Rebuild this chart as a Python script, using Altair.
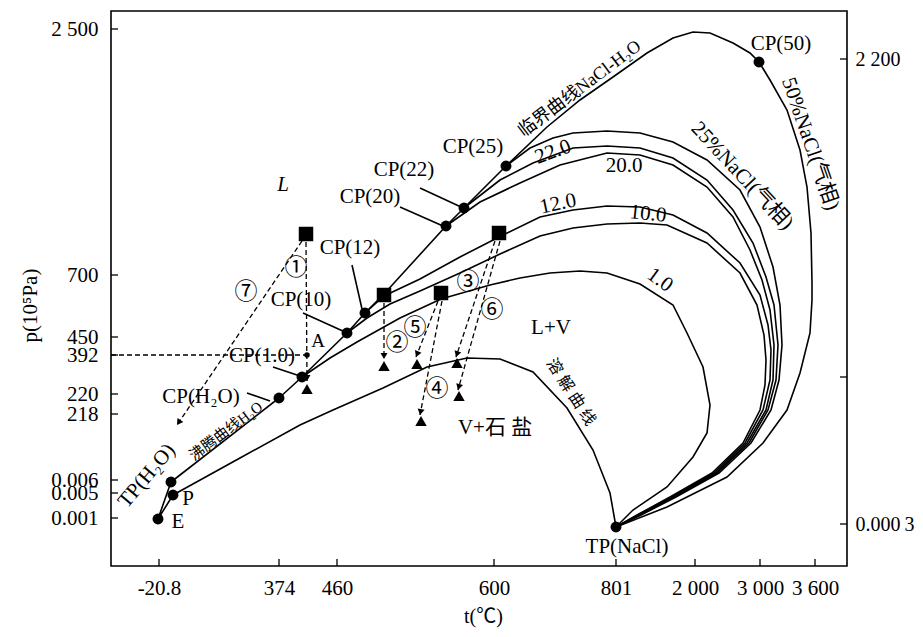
import math
import json
import altair as alt
import pandas as pd

# ---------------- axis ticks of the schematic (non-linear) axes ----------------
x_tick_pos = [159, 279, 337, 494, 616, 695, 760, 815]
x_tick_lab = ["-20.8", "374", "460", "600", "801", "2 000", "3 000", "3 600"]
yl_tick_pos = [29, 275, 337, 355, 394, 414, 480, 493, 518]
yl_tick_lab = ["2 500", "700", "450", "392", "220", "218", "0.006", "0.005", "0.001"]
yr_tick_pos = [59, 377, 524]
yr_tick_lab = ["2 200", "", "0.000\u20093"]

X_DOM = [111, 847]
Y_DOM = [11, 566]

# ---------------- curves (diagram units) ----------------
critical = [(279, 398), (302, 377), (347, 333), (365, 313), (384, 294), (446, 226), (464, 208),
            (506, 166), (547, 127), (580, 100), (613, 77), (647, 53), (673, 38), (693, 32),
            (710, 33), (733, 43), (750, 53), (759, 62), (770, 80), (787, 110), (800, 150),
            (807, 187), (811, 233), (812, 283), (812, 300), (810, 333), (800, 373), (787, 410),
            (763, 443), (727, 477), (667, 507), (616, 527)]
boiling = [(171, 482), (279, 398)]
e_tp = [(171, 482), (158, 519), (173, 495)]
dissolution = [(173, 495), (240, 458), (300, 425), (333, 410), (383, 388), (427, 367), (467, 358),
               (500, 359), (533, 372), (567, 408), (593, 450), (610, 493), (616, 527)]
iso_25 = [(506, 166), (530, 148), (553, 138), (573, 133), (607, 131), (640, 133), (673, 142),
          (707, 160), (740, 190), (760, 227), (773, 267), (780, 305), (782, 345), (779, 380),
          (771, 410), (751, 443), (719, 473), (676, 497), (641, 515), (616, 527)]
iso_22 = [(464, 208), (500, 180), (533, 163), (573, 148), (607, 146), (640, 148), (673, 158),
          (707, 180), (733, 210), (753, 243), (766, 277), (774, 305), (778, 345), (776, 380),
          (768, 410), (749, 443), (717, 473), (674, 497), (640, 515), (616, 527)]
iso_20 = [(446, 226), (480, 202), (520, 183), (560, 165), (607, 153), (640, 155), (673, 165),
          (707, 187), (733, 217), (750, 250), (762, 280), (770, 310), (774, 345), (773, 380),
          (766, 410), (747, 443), (716, 473), (673, 497), (639, 515), (616, 527)]
iso_12 = [(365, 313), (384, 296), (420, 279), (460, 257), (499, 237), (540, 217), (573, 210),
          (607, 206), (640, 207), (673, 215), (707, 233), (740, 263), (760, 295), (768, 325),
          (771, 350), (770, 380), (763, 410), (745, 443), (714, 473), (672, 497), (638, 515),
          (616, 527)]
iso_10 = [(347, 333), (367, 318), (390, 304), (420, 291), (460, 273), (500, 254), (540, 236),
          (573, 228), (607, 224), (640, 223), (667, 225), (707, 243), (740, 273), (757, 305),
          (764, 335), (766, 360), (765, 385), (760, 410), (743, 443), (712, 473), (670, 497),
          (637, 515), (616, 527)]
iso_1 = [(302, 377), (330, 358), (357, 342), (400, 318), (441, 299), (490, 285), (520, 278),
         (550, 273), (580, 271), (607, 273), (640, 284), (673, 305), (687, 333), (703, 367),
         (710, 405), (707, 433), (693, 457), (667, 487), (633, 510), (616, 527)]
leaders = {
    "lCPH2O": [(247, 393), (270, 401)],
    "lCP1": [(273, 367), (300, 376)],
    "lCP10": [(303, 313), (345, 332)],
    "lCP12": [(352, 265), (362, 309)],
    "lCP20": [(400, 207), (443, 226)],
    "lCP22": [(420, 188), (461, 207)],
}

# dashed paths: (start, end, has_arrow)
dashed = {
    "d1": ((306, 242), (307, 381), True),
    "dh": ((111, 355), (305, 355), False),
    "d7": ((302, 241), (177, 425), True),
    "d2": ((384, 303), (384, 359), True),
    "d5": ((438, 301), (416, 357), True),
    "d4": ((442, 301), (420, 415), True),
    "d3": ((495, 241), (456, 357), True),
    "d6": ((500, 241), (458, 390), True),
}

# markers
circle_pts = [(158, 519), (173, 495), (171, 482), (279, 398), (302, 377), (347, 333), (365, 313),
              (446, 226), (464, 208), (506, 166), (759, 62), (616, 527)]
square_pts = [(306, 234), (384, 295), (441, 293), (499, 233)]
triangle_pts = [(307, 389), (384, 366), (417, 364), (421, 421), (457, 363), (459, 396)]
dot_a = [(307, 355)]

# labels: text, x, y, angle, size
labels = [
    ("CP(H₂O)", 201, 397, 0, 21), ("CP(1.0)", 262, 356, 0, 21), ("CP(10)", 301, 300, 0, 21),
    ("CP(12)", 350, 248, 0, 21), ("CP(20)", 370, 197, 0, 21), ("CP(22)", 404, 170, 0, 21),
    ("CP(25)", 473, 147, 0, 21), ("CP(50)", 781, 44, 0, 21), ("TP(NaCl)", 627, 547, 0, 21),
    ("TP(H₂O)", 147, 476, -50, 21), ("P", 188, 499, 0, 21), ("E", 178, 522, 0, 21),
    ("A", 318, 341, 0, 19), ("L+V", 551, 328, 0, 21), ("V+石 盐", 495, 428, 0, 21),
    ("临界曲线NaCl-H₂O", 580, 89, -37, 18), ("沸腾曲线H₂O", 226, 431, -37, 15),
    ("溶 解 曲 线", 571, 392, 57, 16), ("50%NaCl(气相)", 810, 144, 71, 21),
    ("25%NaCl(气相)", 742, 176, 47, 21), ("22.0", 553, 152, -20, 21), ("20.0", 624, 166, 0, 21),
    ("12.0", 558, 204, -12, 21), ("10.0", 648, 214, 6, 21), ("1.0", 660, 280, 36, 21),
    ("①", 296, 268, 0, 23), ("⑦", 246, 292, 0, 23), ("②", 397, 343, 0, 23),
    ("⑤", 415, 328, 0, 23), ("③", 468, 282, 0, 23), ("⑥", 492, 310, 0, 23),
    ("④", 437, 389, 0, 23),
]
italic_labels = [("L", 283, 185, 0, 21)]

FONT = "Liberation Serif, 'Noto Sans CJK SC', serif"

# ---------------- build tables ----------------
curves = {"critical": critical, "boiling": boiling, "e_tp": e_tp, "dissolution": dissolution,
          "iso25": iso_25, "iso22": iso_22, "iso20": iso_20, "iso12": iso_12, "iso10": iso_10,
          "iso1": iso_1}
curves.update(leaders)
line_rows = [{"c": k, "i": i, "x": p[0], "y": p[1]} for k, pts in curves.items()
             for i, p in enumerate(pts)]
line_df = pd.DataFrame(line_rows)

dash_rows = []
arrow_rows = []
for k, (a, b, arr) in dashed.items():
    dash_rows.append({"c": k, "i": 0, "x": a[0], "y": a[1]})
    dash_rows.append({"c": k, "i": 1, "x": b[0], "y": b[1]})
    if arr:
        dx, dy = b[0] - a[0], b[1] - a[1]
        L = math.hypot(dx, dy)
        ang = math.degrees(math.atan2(-dx, dy)) % 360
        arrow_rows.append({"x": b[0] - 3 * dx / L, "y": b[1] - 3 * dy / L, "a": ang})
dash_df = pd.DataFrame(dash_rows)
arrow_df = pd.DataFrame(arrow_rows)


def pts_df(pts):
    return pd.DataFrame([{"x": p[0], "y": p[1]} for p in pts])


def lab_df(lst):
    return pd.DataFrame([{"t": t, "x": x, "y": y, "a": a % 360, "s": s} for t, x, y, a, s in lst])


xs = alt.Scale(domain=X_DOM, nice=False, zero=False)
ys = alt.Scale(domain=Y_DOM, nice=False, zero=False, reverse=True)


def lab_expr(pos, lab):
    return f"{json.dumps(lab)}[indexof({json.dumps(pos)}, datum.value)]"


x_axis = alt.Axis(values=x_tick_pos, labelExpr=lab_expr(x_tick_pos, x_tick_lab), ticks=False,
                  tickSize=0, domain=False, grid=False, labelFont=FONT, labelFontSize=21,
                  labelColor="black", labelPadding=11, labelOverlap=False, labelFlush=False,
                  title="t(℃)", titleFont=FONT, titleFontSize=20, titleFontWeight="normal",
                  titleColor="black", titleX=372, titleY=50, titleBaseline="middle",
                  orient="bottom")
yl_axis = alt.Axis(values=yl_tick_pos, labelExpr=lab_expr(yl_tick_pos, yl_tick_lab), ticks=False,
                   tickSize=0, domain=False, grid=False, labelFont=FONT, labelFontSize=21,
                   labelColor="black", labelPadding=13, labelOverlap=False, labelFlush=False,
                   title="p(10⁵Pa)", titleFont=FONT, titleFontSize=21, titleFontWeight="normal",
                   titleColor="black", titleX=-81, titleY=294, titleBaseline="middle",
                   titleAngle=270, orient="left")
yr_axis = alt.Axis(values=yr_tick_pos, labelExpr=lab_expr(yr_tick_pos, yr_tick_lab), ticks=False,
                   tickSize=0, domain=False, grid=False, labelFont=FONT, labelFontSize=20,
                   labelColor="black", labelPadding=8, labelOverlap=False, labelFlush=False,
                   title=None, orient="right")


def X():
    return alt.X("x:Q", scale=xs, axis=x_axis)


def Y(axis=None):
    return alt.Y("y:Q", scale=ys, axis=axis)


curves_layer = alt.Chart(line_df).mark_line(color="black", strokeWidth=1.6).encode(
    x=X(), y=Y(yl_axis), detail="c:N", order="i:Q")

dash_layer = alt.Chart(dash_df).mark_line(color="black", strokeWidth=1.3, strokeDash=[5, 3]).encode(
    x=X(), y=Y(), detail="c:N", order="i:Q")

circ_layer = alt.Chart(pts_df(circle_pts)).mark_point(
    shape="circle", filled=True, color="black", size=120, opacity=1).encode(x=X(), y=Y())
sq_layer = alt.Chart(pts_df(square_pts)).mark_point(
    shape="square", filled=True, color="black", size=210, opacity=1).encode(x=X(), y=Y())
tri_layer = alt.Chart(pts_df(triangle_pts)).mark_point(
    shape="triangle-up", filled=True, color="black", size=130, opacity=1).encode(x=X(), y=Y())
arrow_layer = alt.Chart(arrow_df).mark_point(
    shape="triangle-down", filled=True, color="black", size=50, opacity=1).encode(
    x=X(), y=Y(), angle=alt.Angle("a:Q", scale=None))
dota_layer = alt.Chart(pts_df(dot_a)).mark_point(
    shape="circle", filled=True, color="black", size=30, opacity=1).encode(x=X(), y=Y())

text_layer = alt.Chart(lab_df(labels)).mark_text(
    font=FONT, color="black", align="center", baseline="middle").encode(
    x=X(), y=Y(), text="t:N", angle=alt.Angle("a:Q", scale=None), size=alt.Size("s:Q", scale=None))
italic_layer = alt.Chart(lab_df(italic_labels)).mark_text(
    font=FONT, color="black", align="center", baseline="middle", fontStyle="italic").encode(
    x=X(), y=Y(), text="t:N", size=alt.Size("s:Q", scale=None))

# inward tick marks
xt_layer = alt.Chart(pd.DataFrame({"x": x_tick_pos})).mark_rule(color="black", strokeWidth=1.3).encode(
    x=X(), y=alt.value(555), y2=alt.value(548))
ylt_layer = alt.Chart(pd.DataFrame({"y": yl_tick_pos})).mark_rule(color="black", strokeWidth=1.3).encode(
    y=Y(), x=alt.value(0), x2=alt.value(7))
yrt_layer = alt.Chart(pd.DataFrame({"y": yr_tick_pos})).mark_rule(color="black", strokeWidth=1.3).encode(
    y=Y(yr_axis), x=alt.value(736), x2=alt.value(729))

chart = alt.layer(
    curves_layer, yrt_layer, dash_layer, xt_layer, ylt_layer, circ_layer, sq_layer, tri_layer,
    arrow_layer, dota_layer, text_layer, italic_layer
).resolve_scale(y="independent").properties(
    width=736, height=555,
    autosize=alt.AutoSizeParams(type="none"),
    padding={"left": 103, "top": 3, "right": 68, "bottom": 63},
    background="white",
).configure_view(stroke="black", strokeWidth=1.6)

chart.save("out.html", embed_options={"renderer": "svg", "actions": False})
